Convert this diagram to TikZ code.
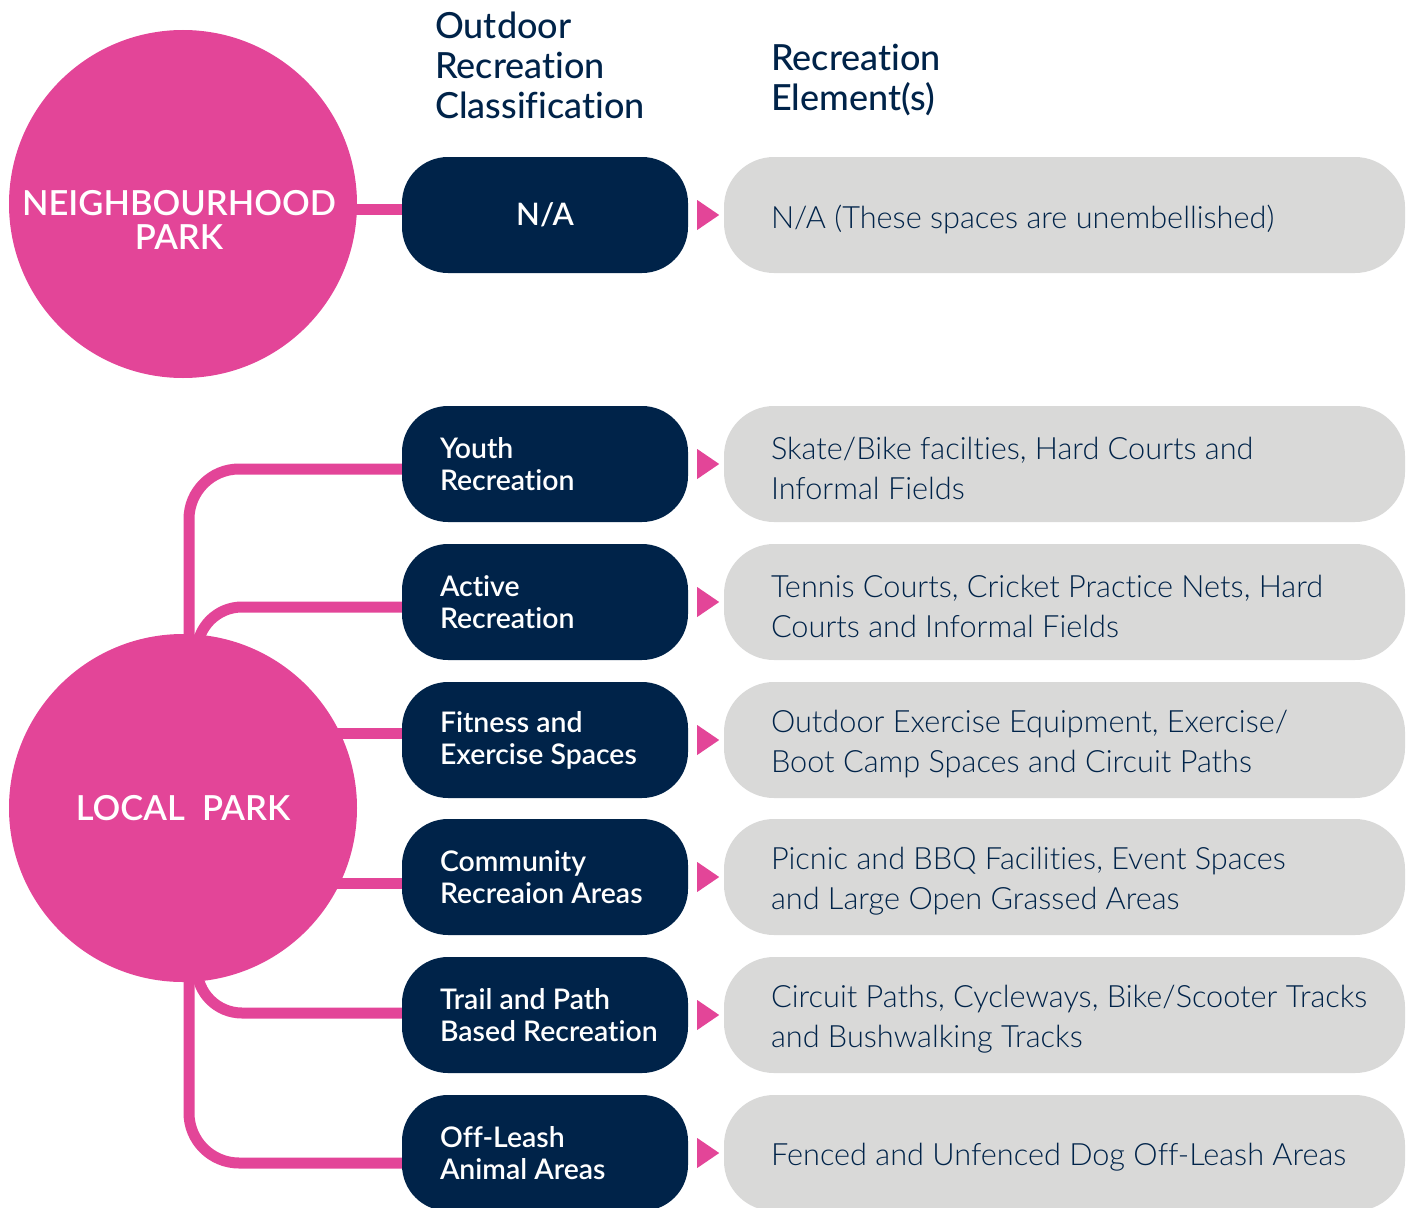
\documentclass[tikz,border=0pt]{standalone}
\usepackage{fontspec}
\defaultfontfeatures{Ligatures={NoCommon}}
\setmainfont{Lato}
\newfontfamily\ltf{Lato Light}
\newfontfamily\mdf{Lato Medium}
\newfontfamily\sbf{Lato Semibold}
\usetikzlibrary{backgrounds}
\definecolor{parkpink}{HTML}{E34598}
\definecolor{navy}{HTML}{002349}
\definecolor{boxgray}{HTML}{D9D9D8}
\begin{document}
\begin{tikzpicture}[x=1pt,y=-1pt,
  conn/.style={draw=parkpink, line width=11pt},
  parkcircle/.style={circle, fill=parkpink, minimum size=348pt, inner sep=0pt},
  circtext/.style={text=white, align=center, font={\sbf\fontsize{34.5}{34}\selectfont}},
  darkbox/.style={fill=navy, rounded corners=46pt, minimum width=286pt, minimum height=116pt, inner sep=0pt},
  darktext/.style={text=white, align=left, anchor=west, inner sep=0pt, font={\sbf\fontsize{28.4}{32}\selectfont}},
  graybox/.style={fill=boxgray, rounded corners=50pt, minimum width=681pt, minimum height=116pt, inner sep=0pt},
  graytext/.style={text=navy, align=left, anchor=west, inner sep=0pt, font={\ltf\fontsize{30.7}{40}\selectfont}},
  headtext/.style={text=navy, align=left, anchor=west, inner sep=0pt, font={\mdf\fontsize{36}{40}\selectfont}},
  tri/.style={fill=parkpink}
]
\useasboundingbox (0,0) rectangle (1410,1207);

% circles
\node[parkcircle] (np) at (183,204) {};
\node[parkcircle] (lp) at (183,808) {};
\node[circtext] (nptext) at (179,220) {NEIGHBOURHOOD\\PARK};
\node[circtext] (lptext) at (183,808) {LOCAL\ \ PARK};

% headings
\node[headtext] (h1) at (435,65) {Outdoor\\Recreation\\Classification};
\node[headtext] (h2) at (771,80) {Recreation\\Element(s)};

% dark boxes
\node[darkbox] (na) at (545,215) {};
\node[text=white, inner sep=0pt, font={\sbf\fontsize{31}{31}\selectfont}] (natext) at (na.center) {N/A};
\node[darkbox] (youth) at (545,464) {};
\node[darkbox] (active) at (545,602) {};
\node[darkbox] (fit) at (545,740) {};
\node[darkbox] (comm) at (545,877) {};
\node[darkbox] (trail) at (545,1015) {};
\node[darkbox] (off) at (545,1153) {};

\node[darktext] (tyouth) at ([xshift=38pt]youth.west) {Youth\\Recreation};
\node[darktext] (tactive) at ([xshift=38pt]active.west) {Active\\Recreation};
\node[darktext] (tfit) at ([xshift=38pt]fit.west) {Fitness and\\Exercise Spaces};
\node[darktext] (tcomm) at ([xshift=38pt]comm.west) {Community\\Recreaion Areas};
\node[darktext] (ttrail) at ([xshift=38pt]trail.west) {Trail and Path\\Based Recreation};
\node[darktext] (toff) at ([xshift=38pt]off.west) {Off-Leash\\Animal Areas};

% gray boxes
\node[graybox] (gna) at (1064.5,215) {};
\node[graybox] (gyouth) at (1064.5,464) {};
\node[graybox] (gactive) at (1064.5,602) {};
\node[graybox] (gfit) at (1064.5,740) {};
\node[graybox] (gcomm) at (1064.5,877) {};
\node[graybox] (gtrail) at (1064.5,1015) {};
\node[graybox] (goff) at (1064.5,1153) {};

\node[graytext] (xna) at ([xshift=47pt,yshift=-4pt]gna.west) {N/A (These spaces are unembellished)};
\node[graytext] (xyouth) at ([xshift=47pt,yshift=-4pt]gyouth.west) {Skate/Bike facilties, Hard Courts and\\Informal Fields};
\node[graytext] (xactive) at ([xshift=47pt,yshift=-4pt]gactive.west) {Tennis Courts, Cricket Practice Nets, Hard\\Courts and Informal Fields};
\node[graytext] (xfit) at ([xshift=47pt,yshift=-4pt]gfit.west) {Outdoor Exercise Equipment, Exercise/\\Boot Camp Spaces and Circuit Paths};
\node[graytext] (xcomm) at ([xshift=47pt,yshift=-4pt]gcomm.west) {Picnic and BBQ Facilities, Event Spaces\\and Large Open Grassed Areas};
\node[graytext] (xtrail) at ([xshift=47pt,yshift=-4pt]gtrail.west) {Circuit Paths, Cycleways, Bike/Scooter Tracks\\and Bushwalking Tracks};
\node[graytext] (xoff) at ([xshift=47pt,yshift=-4pt]goff.west) {Fenced and Unfenced Dog Off-Leash Areas};

% triangles
\foreach \b in {na,youth,active,fit,comm,trail,off}{
  \fill[tri] ([xshift=9pt,yshift=15pt]\b.east) -- ([xshift=31pt]\b.east) -- ([xshift=9pt,yshift=-15pt]\b.east) -- cycle;
}

% connectors
\begin{scope}[on background layer]
\draw[conn] ([yshift=6pt]na.west) -| (np.center);
\draw[conn, rounded corners=50pt] ([yshift=-5pt]youth.west) -| ([xshift=6pt]lp.center) |- ([yshift=-10pt]off.west);
\draw[conn, rounded corners=45pt] ([yshift=-5pt]active.west) -| ([xshift=14pt]lp.center);
\draw[conn, rounded corners=45pt] ([yshift=2pt]trail.west) -| ([xshift=14pt]lp.center);
\draw[conn] ([yshift=7pt]fit.west) -| (lp.center);
\draw[conn] ([yshift=-6pt]comm.west) -| (lp.center);
\end{scope}
\end{tikzpicture}
\end{document}
